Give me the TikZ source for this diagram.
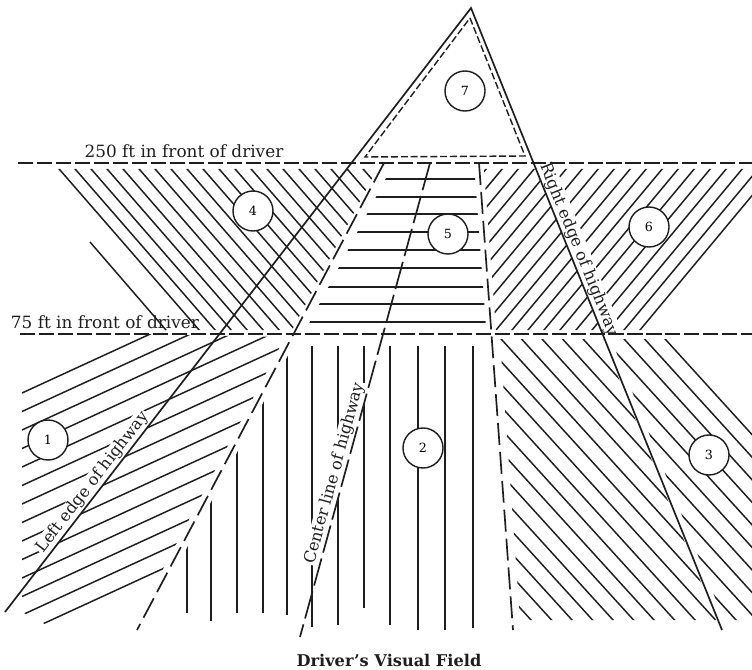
\documentclass[tikz,border=0pt]{standalone}
\usepackage{fontspec}
\setmainfont{DejaVu Serif}
\definecolor{ink}{HTML}{1E1E1E}
\tikzset{
  vf edge/.style={ink,line width=1.2pt},
  vf range/.style={ink,line width=1.2pt,dash pattern=on 10.7pt off 2.8pt},
  vf bound/.style={ink,line width=1.2pt,dash pattern=on 15.6pt off 5pt},
  vf centre/.style={ink,line width=1.2pt,dash pattern=on 20pt off 4.3pt},
  vf inner/.style={ink,line width=1pt,dash pattern=on 5pt off 2pt},
  vf hatch/.style={ink,line width=1.05pt},
  vf zone/.style={circle,draw=ink,fill=white,line width=1pt,minimum size=1cm,inner sep=0pt,font=\fontsize{9}{10}\selectfont},
  vf text/.style={text=ink,font=\fontsize{12}{14}\selectfont},
  vf road/.style={text=ink,fill=white,inner sep=1pt,font=\fontsize{11.5}{13}\selectfont,sloped,above}
}

\begin{document}
\begin{tikzpicture}[x=.025cm,y=-.025cm]
  \useasboundingbox (0,0) rectangle (752,670);
  % edges and limits of the field
  \coordinate (apex) at (471,8);
  \coordinate (left foot) at (5,612);
  \coordinate (right foot) at (722,630);
  \coordinate (centre top) at (430,163);
  \coordinate (centre foot) at (300,637);
  \coordinate (west top) at (384,163);
  \coordinate (west foot) at (137,630);
  \coordinate (east top) at (479,163);
  \coordinate (east foot) at (513,630);
  \coordinate (far start) at (18,163);
  \coordinate (far end) at (752,163);
  \coordinate (near start) at (20,334);
  \coordinate (near end) at (752,334);
  \coordinate (tip) at (470,18);
  \coordinate (tip left) at (365,157);
  \coordinate (tip right) at (525,156);
  % zone 4
  \begin{scope}
    \clip (55,169) -- (377,169) -- (292,330) -- (194,330) -- cycle;
    \foreach \k in {0,...,20}{\draw[vf hatch] (60+16*\k-150,170-172.5) -- ++(300,345);}
  \end{scope}
  \draw[vf hatch] (90,242) -- (166,330);
  % zone 5
  \begin{scope}
    \clip (394,163) -- (303.5,334) -- (486.5,334) -- (474,163) -- cycle;
    \foreach \y in {179,197,214,232,250,268,287,304,322}{\draw[vf hatch] (280,\y) -- (500,\y);}
  \end{scope}
  % zone 6
  \begin{scope}
    \clip (484,169) -- (790,169) -- (645,330) -- (496,330) -- cycle;
    \foreach \k in {0,...,19}{\draw[vf hatch] (640-16*\k-100,330+120) -- ++(300,-360);}
  \end{scope}
  % zone 3, broken at the right edge
  \begin{scope}
    \clip (500,339) -- (603,339) -- (716,620) -- (520,620) -- cycle;
    \foreach \k in {-12,...,8}{\draw[vf hatch] (502+20.5*\k-300,340-330) -- ++(600,660);}
  \end{scope}
  \begin{scope}
    \clip (611,339) -- (671,339) -- (752,428) -- (752,620) -- (724,620) -- cycle;
    \foreach \k in {-12,...,8}{\draw[vf hatch] (502+20.5*\k-300,340-330) -- ++(600,660);}
  \end{scope}
  % zone 1
  \begin{scope}
    \clip (22,388) -- (140,334) -- (285,337) -- (130,632) -- (60,632) -- (22,612) -- cycle;
    \foreach \k in {0,...,13}{\draw[vf hatch] (22-50,393+18.5*\k+23) -- ++(400,-184);}
  \end{scope}
  % zone 2
  \begin{scope}
    \clip (293,346) -- (490,346) -- (490,645) -- (136,645) -- cycle;
    \foreach \x/\b in {187/613,211/621,237/613,263/613,287/615,312/627,338/625,364/608,390/625,418/630,445/630,473/628}{\draw[vf hatch] (\x,330) -- (\x,\b);}
  \end{scope}
  % labels
  \node[vf text,anchor=base] (far label) at (184,158) {250 ft in front of driver};
  \node[vf text,anchor=base west] (near label) at (6,328) {75 ft in front of driver};
  \node[vf text,font=\fontsize{11.5}{13}\selectfont\bfseries,anchor=base] (title) at (389,666) {Driver's Visual Field};
  \path (left foot) -- (apex) node[vf road,pos=.205] (left label) {Left edge of highway};
  \path (centre foot) -- (centre top) node[vf road,pos=.34] (centre label) {Center line of highway};
  \path (apex) -- (right foot) node[vf road,pos=.394] (right label) {Right edge of highway};
  % lines
  \draw[vf range] (far start) -- (far end);
  \draw[vf range] (near start) -- (near end);
  \draw[vf bound] (west top) -- (west foot);
  \draw[vf bound] (east top) -- (east foot);
  \draw[vf centre] (centre top) -- (centre foot);
  \draw[vf inner] (tip) -- (tip right) -- (tip left) -- cycle;
  \draw[vf edge] (left foot) -- (apex) -- (right foot);
  % zone numbers
  \node[vf zone] (z1) at (48,440) {1};
  \node[vf zone] (z2) at (423,448) {2};
  \node[vf zone] (z3) at (709,455) {3};
  \node[vf zone] (z4) at (253,211) {4};
  \node[vf zone] (z5) at (448,234) {5};
  \node[vf zone] (z6) at (649,227) {6};
  \node[vf zone] (z7) at (465,91) {7};
\end{tikzpicture}
\end{document}
